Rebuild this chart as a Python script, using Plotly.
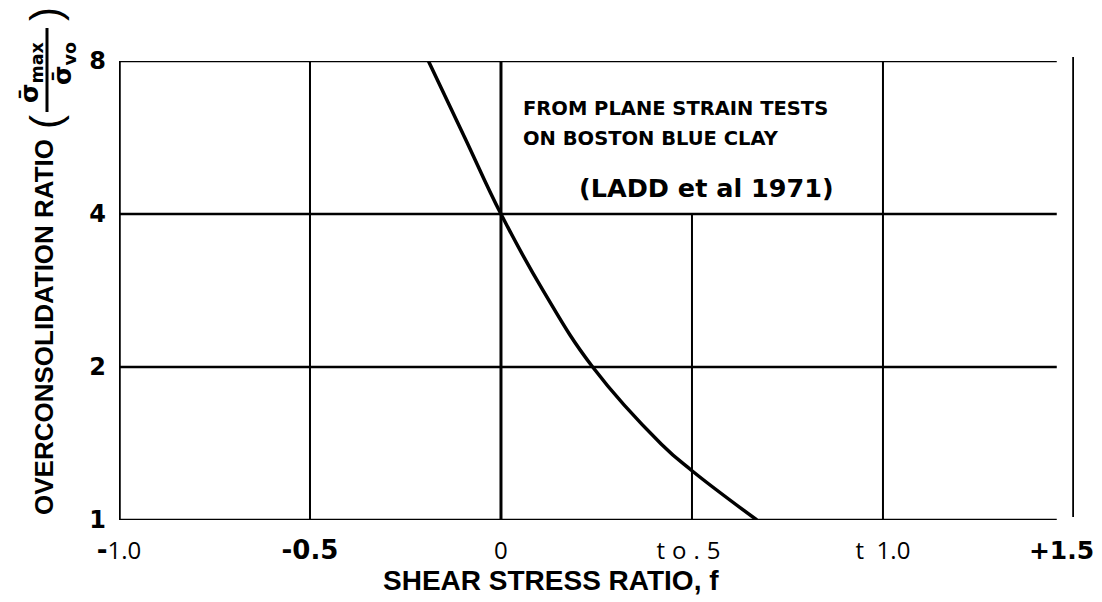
import plotly.graph_objects as go

# Overconsolidation ratio vs shear stress ratio (plane strain, Boston Blue Clay)
f_ratio = [-0.19, -0.095, 0.0, 0.11, 0.24, 0.42, 0.50, 0.67]
ocr = [8.0, 5.66, 4.0, 2.83, 2.0, 1.41, 1.25, 1.0]

x_ticks = [-1.0, -0.5, 0.0, 0.5, 1.0, 1.5]
y_ticks = [1, 2, 4, 8]
y_tick_text = ["1", "2", "4", "8"]

note_lines = ["FROM PLANE STRAIN TESTS", "ON BOSTON BLUE CLAY"]
note_ref = "(LADD et al 1971)"

W, H = 1102, 602
ML, MR, MT, MB = 119, 28, 61, 82
PW, PH = W - ML - MR, H - MT - MB

BOLD = "DejaVu Sans"
THIN = "Open Sans"
HEAVY = "Liberation Sans"


def px(xp):
    return (xp - ML) / PW


def py(yp):
    return (H - MB - yp) / PH


def bold_span(s, size=26):
    return f"<span style='font-family:{BOLD};font-size:{size}px'><b>{s}</b></span>"


x_tick_text = [
    bold_span("-") + "1.0",
    bold_span("-0.5"),
    "0",
    "<span style='letter-spacing:7px'>to.5</span>",
    "t\u00a0\u00a01.0",
    bold_span("+1.5", 25) + "\u00a0\u00a0\u00a0\u00a0",
]

fig = go.Figure()

x_grid_end = 1.455

# horizontal rules at each ratio level
for yv in y_ticks:
    fig.add_trace(go.Scatter(x=[-1.0, x_grid_end], y=[yv, yv], mode="lines",
                             line=dict(color="black", width=2.5),
                             hoverinfo="skip", showlegend=False))

# vertical rules
for xv, y0, y1, w in [(-1.0, 1, 8, 3.5), (-0.5, 1, 8, 2), (0.0, 1, 8, 3),
                      (0.5, 1, 4, 2), (1.0, 1, 8, 2)]:
    fig.add_trace(go.Scatter(x=[xv, xv], y=[y0, y1], mode="lines",
                             line=dict(color="black", width=w),
                             hoverinfo="skip", showlegend=False))

# the OCR curve
fig.add_trace(go.Scatter(x=f_ratio, y=ocr, mode="lines",
                         line=dict(color="black", width=3.5, shape="spline", smoothing=1.2),
                         hoverinfo="skip", showlegend=False))

shapes = [
    # detached right-hand border at f = +1.5
    dict(type="line", xref="x", yref="paper", x0=1.5, x1=1.5,
         y0=py(517), y1=py(57), line=dict(color="black", width=3.5)),
    # fraction bar of the axis title
    dict(type="line", xref="paper", yref="paper", x0=px(47), x1=px(47),
         y0=py(112), y1=py(28), line=dict(color="black", width=3)),
]

annotations = []
# note in the upper panel
for txt, yp in zip(note_lines, [108, 138]):
    annotations.append(dict(text=f"<b>{txt}</b>", xref="paper", yref="paper",
                            x=px(521), y=py(yp), xanchor="left", yanchor="middle",
                            showarrow=False, font=dict(family=BOLD, size=19.5, color="black")))
annotations.append(dict(text=f"<b>{note_ref}</b>", xref="paper", yref="paper",
                        x=px(577), y=py(188), xanchor="left", yanchor="middle",
                        showarrow=False, font=dict(family=BOLD, size=25.5, color="black")))

# x axis title
annotations.append(dict(text="<b>SHEAR STRESS RATIO, f</b>", xref="paper", yref="paper",
                        x=px(551), y=py(580), xanchor="center", yanchor="middle",
                        showarrow=False, font=dict(family=HEAVY, size=28, color="black")))

# y axis title, written bottom to top
annotations.append(dict(text="<b>OVERCONSOLIDATION RATIO</b>", xref="paper", yref="paper",
                        x=px(44), y=py(327), xanchor="center", yanchor="middle",
                        textangle=-90, showarrow=False,
                        font=dict(family=HEAVY, size=26, color="black")))
for ch, yp in [("(", 122), (")", 14)]:
    annotations.append(dict(text=ch, xref="paper", yref="paper",
                            x=px(45), y=py(yp), xanchor="center", yanchor="middle",
                            textangle=-90, showarrow=False,
                            font=dict(family=HEAVY, size=42, color="black")))
annotations.append(dict(text="<b>\u03c3\u0304<sub>max</sub></b>", xref="paper", yref="paper",
                        x=px(31), y=py(72), xanchor="center", yanchor="middle",
                        textangle=-90, showarrow=False,
                        font=dict(family=BOLD, size=25, color="black")))
annotations.append(dict(text="<b>\u03c3\u0304<sub>vo</sub></b>", xref="paper", yref="paper",
                        x=px(64), y=py(64), xanchor="center", yanchor="middle",
                        textangle=-90, showarrow=False,
                        font=dict(family=BOLD, size=25, color="black")))

fig.update_layout(
    width=W, height=H,
    margin=dict(l=ML, r=MR, t=MT, b=MB, pad=0, autoexpand=False),
    paper_bgcolor="white", plot_bgcolor="white",
    shapes=shapes, annotations=annotations,
    xaxis=dict(range=[-1.0, 1.5001], showgrid=False, zeroline=False, showline=False,
               ticks="", tickvals=x_ticks, ticktext=x_tick_text,
               tickfont=dict(family=THIN, size=24, color="black"),
               ticklabelstandoff=14, ticklabeloverflow="allow", automargin=False),
    yaxis=dict(type="log", range=[0, 0.90309], showgrid=False, zeroline=False,
               showline=False, ticks="", tickvals=y_ticks, ticktext=y_tick_text,
               tickfont=dict(family=BOLD, size=24, color="black", weight="bold"),
               ticklabelstandoff=12, automargin=False),
)

fig.write_html("out.html")
